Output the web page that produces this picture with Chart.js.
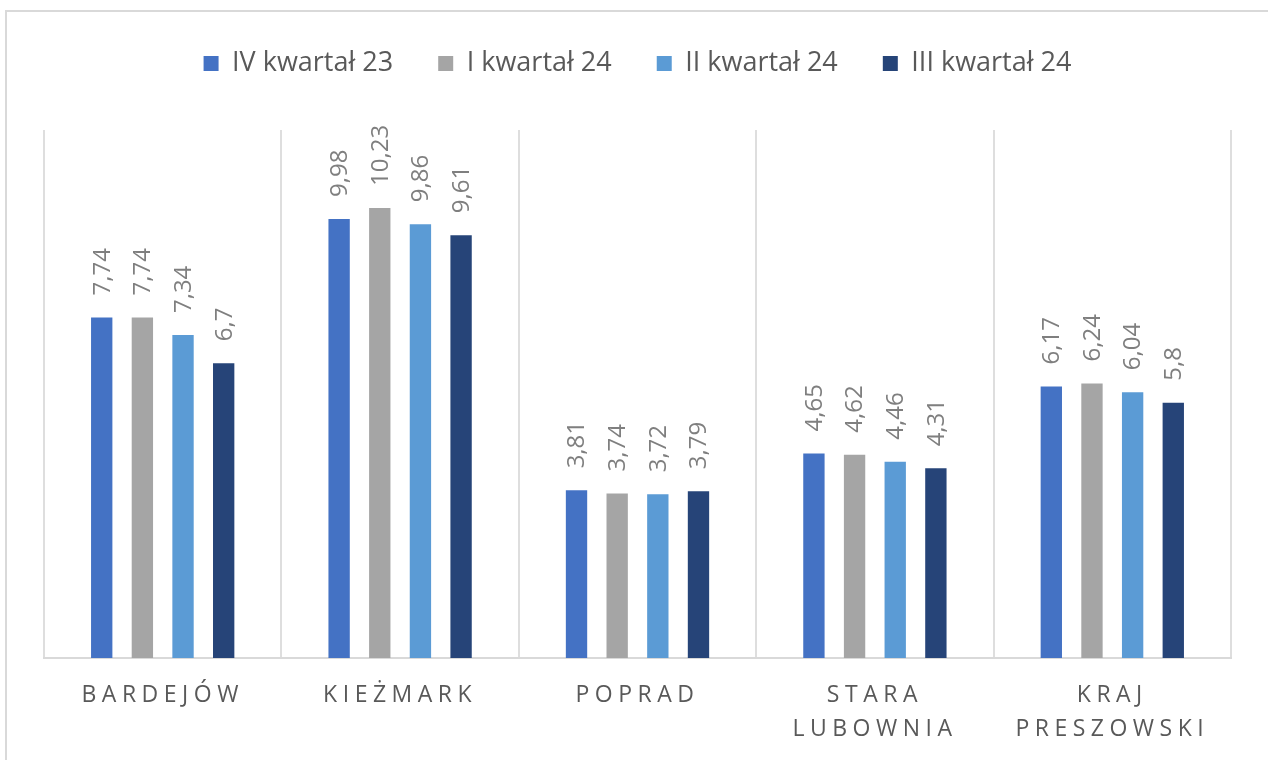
<!DOCTYPE html>
<html lang="pl">
<head>
<meta charset="utf-8">
<title>Kwartały – powiaty</title>
<script src="https://cdn.jsdelivr.net/npm/chart.js@4/dist/chart.umd.min.js"></script>
<style>
  html, body { margin: 0; padding: 0; background: #fff; overflow: hidden; }
  #wrap { position: relative; width: 1268px; height: 760px; }
  #frame {
    position: absolute; left: 5px; top: 10px; width: 1300px; height: 800px;
    border-left: 2px solid #d9d9d9; border-top: 2px solid #d9d9d9;
    pointer-events: none;
  }
  canvas { position: absolute; left: 0; top: 0; }
</style>
</head>
<body>
<div id="wrap">
  <div id="frame"></div>
  <canvas id="chart" width="1268" height="760"></canvas>
</div>
<script>
/* ---------- data ---------- */
const categories = ['BARDEJÓW', 'KIEŻMARK', 'POPRAD', ['STARA', 'LUBOWNIA'], ['KRAJ', 'PRESZOWSKI']];
const seriesNames = ['IV kwartał 23', 'I kwartał 24', 'II kwartał 24', 'III kwartał 24'];
const q4_23 = [7.74, 9.98, 3.81, 4.65, 6.17];
const q1_24 = [7.74, 10.23, 3.74, 4.62, 6.24];
const q2_24 = [7.34, 9.86, 3.72, 4.46, 6.04];
const q3_24 = [6.7, 9.61, 3.79, 4.31, 5.8];
const seriesColors = ['#4472C4', '#A5A5A5', '#5B9BD5', '#264478'];

const FONT = "'Open Sans', 'Noto Sans', sans-serif";
Chart.defaults.font.family = FONT;
Chart.defaults.color = '#595959';

// give the legend more room underneath so the plot starts lower
const legendGap = {
  id: 'legendGap',
  beforeInit(chart) {
    const fit = chart.legend.fit;
    chart.legend.fit = function () {
      fit.call(this);
      this.height += 43;
    };
  }
};

// value labels, rotated, above each bar; then turn on letter spacing for the x ticks
const barLabels = {
  id: 'barLabels',
  afterDatasetsDraw(chart) {
    const ctx = chart.ctx;
    ctx.save();
    ctx.font = '24px ' + FONT;
    ctx.fillStyle = '#7f7f7f';
    ctx.textAlign = 'left';
    ctx.textBaseline = 'middle';
    chart.data.datasets.forEach((ds, i) => {
      chart.getDatasetMeta(i).data.forEach((bar, j) => {
        const txt = String(ds.data[j]).replace('.', ',');
        ctx.save();
        ctx.translate(bar.x + 1, bar.y - 22);
        ctx.rotate(-Math.PI / 2);
        ctx.fillText(txt, 0, 0);
        ctx.restore();
      });
    });
    ctx.restore();
    ctx.letterSpacing = '5.5px';
  },
  afterDraw(chart) {
    chart.ctx.letterSpacing = '0px';
  }
};

const datasets = [q4_23, q1_24, q2_24, q3_24].map((vals, i) => ({
  label: seriesNames[i],
  data: vals,
  backgroundColor: seriesColors[i],
  borderWidth: 0,
  categoryPercentage: 0.685,
  barPercentage: 0.525,
}));

new Chart(document.getElementById('chart'), {
  type: 'bar',
  data: { labels: categories, datasets },
  plugins: [legendGap, barLabels],
  options: {
    responsive: false,
    animation: false,
    events: [],
    layout: { padding: { top: 5, left: 44, right: 37, bottom: 14 } },
    plugins: {
      legend: {
        position: 'top',
        labels: {
          font: { size: 27 },
          color: '#595959',
          boxWidth: 15,
          boxHeight: 15,
          padding: 45,
        }
      },
      tooltip: { enabled: false }
    },
    scales: {
      x: {
        grid: { offset: true, color: '#dedede', lineWidth: 2, drawTicks: false },
        border: { color: '#d9d9d9', width: 2 },
        ticks: {
          z: 1,
          padding: 20,
          maxRotation: 0,
          minRotation: 0,
          autoSkip: false,
          color: '#595959',
          font: { size: 23, lineHeight: 34 / 23 }
        },
        afterFit(scale) { scale.height = 88; }
      },
      y: {
        display: false,
        min: 0,
        max: 12
      }
    }
  }
});
</script>
</body>
</html>
